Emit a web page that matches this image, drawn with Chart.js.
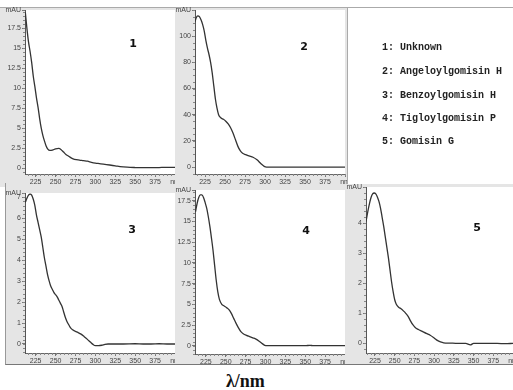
<!DOCTYPE html>
<html>
<head>
<meta charset="utf-8">
<script src="https://cdn.jsdelivr.net/npm/chart.js@4/dist/chart.umd.min.js"></script>
<style>
  body { margin: 0; background: #fff; width: 513px; height: 390px; position: relative; overflow: hidden; }
  .frame { position: absolute; background: #e5e5e5; }
  canvas { position: absolute; }
  .num { position: absolute; font: bold 11px "DejaVu Sans", sans-serif; color: #111; transform: translate(-50%, -50%); }
  .leg { position: absolute; left: 382px; font: bold 10px "Liberation Mono", monospace; color: #222; transform: translateY(-50%); white-space: pre; }
  #xlabel { position: absolute; left: 226px; top: 371px; font: bold 18px "Liberation Serif", serif; color: #111; }
</style>
</head>
<body>
<div class="frame" style="left:0;top:7px;width:347px;height:179px;border-top:1px solid #aaa"></div>
<div class="frame" style="left:5px;top:183px;width:508px;height:181px;border-left:1px solid #999;border-bottom:1px solid #777"></div>
<div style="position:absolute;left:347px;top:7px;width:166px;height:176px;background:#fff;border-left:1px solid #aaa;border-top:1px solid #aaa"></div>

<canvas id="c1" width="175" height="180" style="left:0;top:7px"></canvas>
<canvas id="c2" width="172" height="180" style="left:175px;top:7px"></canvas>
<canvas id="c3" width="169" height="179" style="left:6px;top:186px"></canvas>
<canvas id="c4" width="170" height="179" style="left:175px;top:186px"></canvas>
<canvas id="c5" width="168" height="182" style="left:345px;top:183px"></canvas>

<div class="num" style="left:133px;top:43px">1</div>
<div class="num" style="left:304px;top:46px">2</div>
<div class="num" style="left:132px;top:229px">3</div>
<div class="num" style="left:306px;top:230px">4</div>
<div class="num" style="left:477px;top:227px">5</div>

<div class="leg" style="top:47px">1: Unknown</div>
<div class="leg" style="top:71px">2: Angeloylgomisin H</div>
<div class="leg" style="top:95px">3: Benzoylgomisin H</div>
<div class="leg" style="top:118px">4: Tigloylgomisin P</div>
<div class="leg" style="top:141px">5: Gomisin G</div>

<div id="xlabel">λ/nm</div>

<script>
// spectra: wavelength (nm) and absorbance (mAU)
var wl1  = [212, 214, 216, 218, 220, 222, 224, 226, 228, 230, 232, 234, 236, 238, 240, 243, 246, 250, 254, 257, 260, 263, 266, 269, 272, 276, 280, 285, 290, 295, 300, 305, 310, 318, 325, 331, 340, 350, 360, 370, 380, 390, 400];
var abs1 = [19.5, 17.5, 15.8, 14.6, 13.2, 11.5, 10.2, 8.8, 7.6, 6.2, 5.0, 4.1, 3.4, 2.8, 2.4, 2.2, 2.25, 2.4, 2.45, 2.3, 2.0, 1.7, 1.5, 1.3, 1.15, 1.05, 1.0, 0.92, 0.85, 0.72, 0.62, 0.55, 0.48, 0.38, 0.28, 0.18, 0.1, 0.06, 0.04, 0.04, 0.06, 0.08, 0.08];

var wl2  = [212.5, 214, 216, 218, 220, 222, 224, 226, 228, 230, 232, 234, 236, 238, 240, 242, 245, 248, 251, 254, 257, 260, 263, 266, 269, 272, 276, 280, 285, 290, 295, 299, 302, 310, 330, 350, 370, 390, 400];
var abs2 = [111, 114, 115.5, 115, 112.5, 109, 104, 97, 91, 86, 80, 72, 62, 52, 45, 40, 37.5, 36.5, 35, 33, 30, 26, 21, 16, 12.5, 10.5, 9.5, 8.5, 7.5, 5.5, 2.5, 0.5, 0, 0, 0, 0, 0, 0, 0];

var wl3  = [212, 214, 216, 218, 220, 222, 224, 226, 228, 230, 232, 234, 236, 238, 240, 242, 244, 246, 248, 250, 252, 254, 256, 258, 260, 262, 264, 266, 268, 270, 274, 278, 282, 286, 290, 294, 297, 300, 304, 308, 312, 316, 325, 335, 350, 360, 370, 380, 390, 400];
var abs3 = [6.75, 6.95, 7.1, 7.15, 7.1, 6.9, 6.6, 6.15, 5.8, 5.45, 5.1, 4.6, 4.1, 3.7, 3.3, 3.0, 2.75, 2.6, 2.45, 2.35, 2.25, 2.1, 1.95, 1.8, 1.55, 1.3, 1.1, 0.95, 0.82, 0.72, 0.62, 0.55, 0.47, 0.35, 0.22, 0.08, -0.02, -0.08, -0.08, -0.06, -0.02, 0, 0, 0, 0.01, 0, 0, 0.01, 0, 0];

var wl4  = [212, 214, 216, 218, 220, 222, 224, 226, 228, 230, 232, 234, 236, 238, 240, 242, 245, 248, 251, 254, 257, 260, 263, 266, 269, 272, 276, 280, 284, 288, 292, 296, 299, 302, 310, 330, 350, 356, 360, 380, 400];
var abs4 = [16.2, 17.2, 17.9, 18.2, 18.2, 17.9, 17.3, 16.6, 15.6, 14.4, 13.0, 11.5, 9.7, 7.9, 6.5, 5.6, 5.0, 4.8, 4.6, 4.35, 3.9, 3.3, 2.7, 2.15, 1.7, 1.45, 1.25, 1.1, 0.95, 0.8, 0.55, 0.25, 0.05, 0, 0, 0, 0, 0.05, 0, 0, 0];

var wl5  = [213.6, 216, 218, 220, 222, 224, 226, 228, 230, 232, 234, 236, 238, 240, 242, 244, 246, 248, 250, 252, 255, 258, 261, 264, 267, 270, 273, 276, 280, 285, 290, 295, 300, 304, 308, 312, 320, 330, 340, 346, 350, 360, 370, 380, 390, 400];
var abs5 = [4.05, 4.4, 4.65, 4.85, 4.97, 5.0, 4.97, 4.87, 4.72, 4.5, 4.2, 3.9, 3.55, 3.2, 2.85, 2.45, 2.05, 1.72, 1.45, 1.3, 1.2, 1.15, 1.08, 1.0, 0.9, 0.75, 0.62, 0.53, 0.46, 0.4, 0.33, 0.27, 0.18, 0.1, 0.05, 0.02, 0.01, 0, 0, -0.05, 0, 0, 0, 0, -0.01, 0];

// tick labels
var xTicks = [225, 250, 275, 300, 325, 350, 375, 400];
var yTicks1 = [0, 2.5, 5, 7.5, 10, 12.5, 15, 17.5];
var yTicks2 = [0, 20, 40, 60, 80, 100];
var yTicks3 = [0, 1, 2, 3, 4, 5, 6, 7];
var yTicks4 = [0, 2.5, 5, 7.5, 10, 12.5, 15, 17.5];
var yTicks5 = [0, 1, 2, 3, 4];

// white plot area + small minor tick marks
var minorTicks = {
    id: 'minorTicks',
    beforeDraw: function(chart) {
        var a = chart.chartArea, c = chart.ctx;
        c.save();
        c.fillStyle = '#fff';
        c.fillRect(a.left, a.top, a.right - a.left, a.bottom - a.top);
        c.restore();
    },
    afterDraw: function(chart, args, opts) {
        var c = chart.ctx, xs = chart.scales.x, ys = chart.scales.y, a = chart.chartArea;
        var i, v, px;
        c.save();
        c.strokeStyle = '#888';
        c.lineWidth = 1;
        c.beginPath();
        var x0 = Math.ceil(xs.min / opts.x);
        for (i = x0; i * opts.x <= xs.max; i++) {
            px = Math.round(xs.getPixelForValue(i * opts.x)) + 0.5;
            c.moveTo(px, a.bottom); c.lineTo(px, a.bottom + 2);
        }
        var y0 = Math.ceil(ys.min / opts.y);
        for (i = y0; i * opts.y <= ys.max; i++) {
            px = Math.round(ys.getPixelForValue(i * opts.y)) + 0.5;
            c.moveTo(a.left, px); c.lineTo(a.left - 2, px);
        }
        c.stroke();
        c.restore();
    }
};

function spectrum(id, wl, abs, yMin, yMax, yTicks, yMinor, xMin, box) {
    var ctx = document.getElementById(id).getContext('2d');
    var tickFont = { family: 'Liberation Sans', size: 7 };
    new Chart(ctx, {
        type: 'line',
        data: {
            datasets: [{
                data: wl.map(function(x, i) { return { x: x, y: abs[i] }; }),
                borderColor: '#333',
                borderWidth: 1.3,
                pointRadius: 0,
                cubicInterpolationMode: 'monotone',
                fill: false
            }]
        },
        options: {
            responsive: false,
            animation: false,
            devicePixelRatio: 1,
            layout: { padding: { top: box.padTop, right: box.padRight, left: 0, bottom: 0 } },
            plugins: {
                legend: { display: false },
                tooltip: { enabled: false },
                minorTicks: { x: 5, y: yMinor }
            },
            scales: {
                x: {
                    type: 'linear', min: xMin, max: 400,
                    afterBuildTicks: function(s) { s.ticks = xTicks.map(function(v) { return { value: v }; }); },
                    afterFit: function(s) { s.height = box.axisH; s.paddingLeft = 0; s.paddingRight = 0; },
                    ticks: {
                        callback: function(v) { return v === 400 ? 'nm' : v; },
                        font: tickFont, color: '#444', padding: 1, maxRotation: 0, autoSkip: false
                    },
                    grid: { drawOnChartArea: false, tickLength: 3, color: '#777' },
                    border: { color: '#666' }
                },
                y: {
                    type: 'linear', min: yMin, max: yMax,
                    afterBuildTicks: function(s) {
                        s.ticks = yTicks.map(function(v) { return { value: v }; }).concat([{ value: yMax }]);
                    },
                    afterFit: function(s) { s.width = box.axisW; s.paddingTop = 0; s.paddingBottom = 0; },
                    ticks: {
                        callback: function(v) { return v === yMax ? 'mAU' : v; },
                        font: tickFont, color: '#444', padding: 1, autoSkip: false
                    },
                    grid: { drawOnChartArea: false, tickLength: 3, color: '#777' },
                    border: { color: '#555' }
                }
            }
        },
        plugins: [minorTicks]
    });
}

spectrum('c1', wl1, abs1, -0.75, 19.8, yTicks1, 0.5, 211.6, { axisW: 25, axisH: 13, padTop: 3, padRight: 0 });
spectrum('c2', wl2, abs2, -5.3, 120, yTicks2, 5, 212.5, { axisW: 20, axisH: 13, padTop: 3, padRight: 2 });
spectrum('c3', wl3, abs3, -0.43, 7.2, yTicks3, 0.2, 211.6, { axisW: 19, axisH: 12, padTop: 7, padRight: 0 });
spectrum('c4', wl4, abs4, -1.0, 18.8, yTicks4, 0.5, 211.3, { axisW: 20, axisH: 11, padTop: 4, padRight: 0 });
spectrum('c5', wl5, abs5, -0.32, 5.2, yTicks5, 0.2, 213.6, { axisW: 21, axisH: 12, padTop: 4, padRight: 0 });
</script>
</body>
</html>
